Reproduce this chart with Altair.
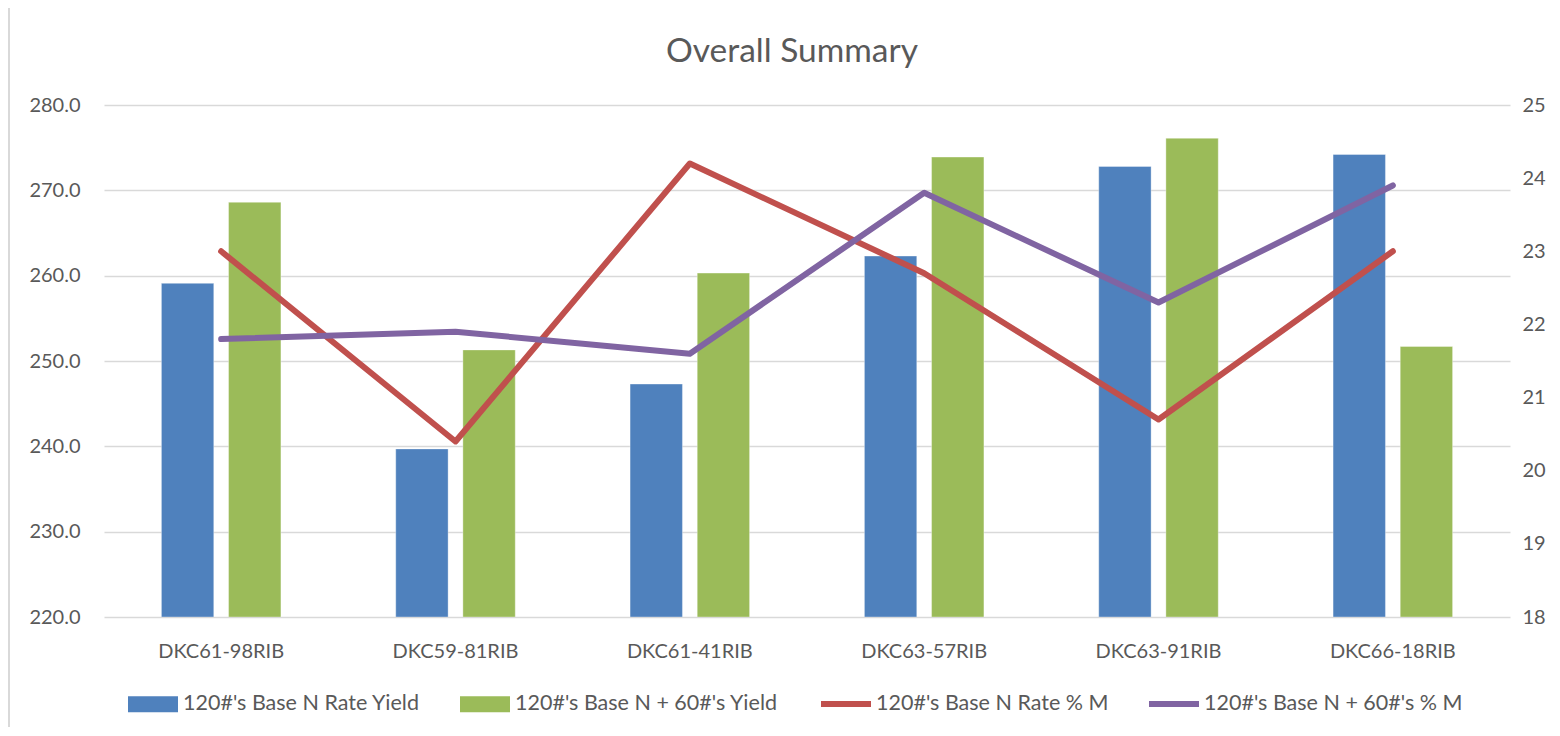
import altair as alt
import pandas as pd

categories = ["DKC61-98RIB", "DKC59-81RIB", "DKC61-41RIB", "DKC63-57RIB", "DKC63-91RIB", "DKC66-18RIB"]
bar_series = ["120#'s Base N Rate Yield", "120#'s Base N + 60#'s Yield"]
line_series = ["120#'s Base N Rate % M", "120#'s Base N + 60#'s % M"]
base_yield = [259.1, 239.7, 247.3, 262.3, 272.8, 274.2]
plus60_yield = [268.6, 251.3, 260.3, 273.9, 276.1, 251.7]
base_moist = [23.0, 20.4, 24.2, 22.7, 20.7, 23.0]
plus60_moist = [21.8, 21.9, 21.6, 23.8, 22.3, 23.9]

bars = pd.DataFrame({
    "cat": categories * 2,
    "series": [bar_series[0]] * 6 + [bar_series[1]] * 6,
    "value": base_yield + plus60_yield,
})
lines = pd.DataFrame({
    "cat": categories * 2,
    "series": [line_series[0]] * 6 + [line_series[1]] * 6,
    "value": base_moist + plus60_moist,
})

FONT = "Lato"
TXT = "#595959"
W, H = 1406, 512

xenc = alt.X("cat:N", sort=categories, title=None,
             scale=alt.Scale(paddingInner=0, paddingOuter=0),
             axis=alt.Axis(labelFont=FONT, labelFontSize=20, labelColor=TXT, labelPadding=24,
                           domain=False, ticks=False, grid=False, labelAngle=0))

bar_layer = alt.Chart(bars).mark_bar(clip=True, stroke="#ffffff", strokeOpacity=0.35, strokeWidth=1).encode(
    x=xenc,
    xOffset=alt.XOffset("series:N", sort=bar_series,
                        scale=alt.Scale(paddingInner=0.22, paddingOuter=0.855)),
    y=alt.Y("value:Q", title=None,
            scale=alt.Scale(domain=[220, 280], nice=False, zero=False),
            axis=alt.Axis(orient="left", values=[220, 230, 240, 250, 260, 270, 280], format=".1f",
                          labelFont=FONT, labelFontSize=20, labelColor=TXT, labelPadding=24,
                          domain=False, ticks=False, grid=True, gridColor="#D9D9D9", gridWidth=1.5)),
    y2=alt.datum(220),
    color=alt.Color("series:N", sort=bar_series,
                    scale=alt.Scale(domain=bar_series, range=["#4F81BD", "#9BBB59"]),
                    legend=alt.Legend(title=None, orient="none", legendX=24, legendY=574,
                                      direction="horizontal", symbolType="M-1,-0.32H1V0.32H-1Z",
                                      symbolSize=2500, symbolStrokeWidth=0, columnPadding=40,
                                      labelFont=FONT, labelFontSize=21.5, labelColor=TXT, labelOffset=5,
                                      labelLimit=0, symbolOpacity=1)),
)

line_layer = alt.Chart(lines).mark_line(strokeWidth=6, strokeCap="round", strokeJoin="round").encode(
    x=alt.X("cat:N", sort=categories),
    y=alt.Y("value:Q", title=None,
            scale=alt.Scale(domain=[18, 25], nice=False, zero=False),
            axis=alt.Axis(orient="right", values=[18, 19, 20, 21, 22, 23, 24, 25], format="d",
                          labelFont=FONT, labelFontSize=20, labelColor=TXT, labelPadding=12,
                          domain=False, ticks=False, grid=False)),
    stroke=alt.Stroke("series:N", sort=line_series,
                      scale=alt.Scale(domain=line_series, range=["#C0504D", "#8064A2"]),
                      legend=alt.Legend(title=None, orient="none", legendX=714, legendY=571,
                                        direction="horizontal", symbolType="stroke",
                                        symbolSize=2500, symbolStrokeWidth=6, columnPadding=28,
                                        labelFont=FONT, labelFontSize=21.5, labelColor=TXT, labelOffset=2,
                                        labelLimit=0)),
    order=alt.Order("series:N"),
)

# outer chart frame (left and top edges visible, like the reference)
border = alt.Chart(pd.DataFrame({"k": [0]})).mark_rule(stroke="#D9D9D9", strokeWidth=2).encode(
    x=alt.value(-95), y=alt.value(-100), y2=alt.value(H + 200))
border_top = alt.Chart(pd.DataFrame({"k": [0]})).mark_rule(stroke="#D9D9D9", strokeWidth=2).encode(
    x=alt.value(-96), x2=alt.value(W + 60), y=alt.value(-99))

chart = alt.layer(border, border_top, bar_layer, line_layer).resolve_scale(
    y="independent", color="independent", stroke="independent"
).properties(
    width=W, height=H, background="white",
    title=alt.Title("Overall Summary", font=FONT, fontSize=33.5, fontWeight="normal", color=TXT,
                    anchor="middle", frame="group", dx=-15, offset=-98, baseline="bottom"),
    autosize=alt.AutoSizeParams(type="none"),
    padding={"left": 96, "top": 97, "right": 42, "bottom": 110},
).configure_view(stroke="transparent", strokeWidth=0).configure_axis(domain=False)

chart.save("out.html", embed_options={"renderer": "svg", "actions": False})
